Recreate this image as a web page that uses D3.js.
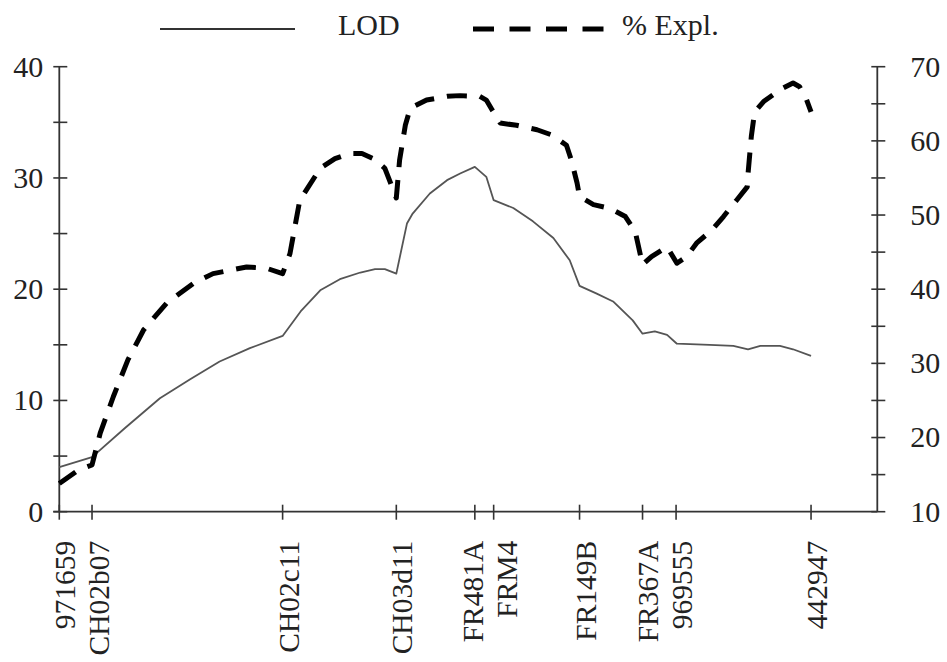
<!DOCTYPE html>
<html>
<head>
<meta charset="utf-8">
<script src="https://cdn.jsdelivr.net/npm/d3@7"></script>
<style>
  html, body { margin: 0; padding: 0; background: #fff; }
  svg { display: block; }
  text { font-family: "Liberation Serif", "Times New Roman", serif; fill: #222; }
</style>
</head>
<body>
<svg id="chart" width="947" height="662" font-family="Liberation Serif, Times New Roman, serif"></svg>
<script>
// Marker names and their map positions (cM-like units)
const markerNames = ["971659", "CH02b07", "CH02c11", "CH03d11", "FR481A", "FRM4", "FR149B", "FR367A", "969555", "442947"];
const markerPos   = [0, 4.0, 27.3, 41.2, 50.8, 53.1, 63.6, 71.3, 75.4, 91.9];

// LOD profile (position, LOD)
const lodPos = [0, 4.0, 8.0, 12.3, 16.0, 19.6, 23.3, 27.3, 29.5, 31.9, 34.3, 36.8, 38.6, 39.8, 41.2,
  42.5, 43.2, 45.3, 47.4, 49.0, 50.8, 52.2, 53.1, 55.5, 57.9, 60.4, 62.4, 63.6, 65.7, 67.7, 70.1,
  71.3, 72.8, 74.3, 75.5, 79.5, 82.4, 84.2, 85.7, 88.1, 89.7, 91.9];
const lodVal = [4.0, 4.9, 7.5, 10.2, 11.9, 13.5, 14.7, 15.8, 18.0, 19.9, 20.9, 21.5, 21.8, 21.8, 21.4,
  25.9, 26.8, 28.6, 29.8, 30.4, 31.0, 30.1, 28.0, 27.3, 26.1, 24.6, 22.6, 20.3, 19.6, 18.9, 17.2,
  16.0, 16.2, 15.9, 15.1, 15.0, 14.9, 14.6, 14.9, 14.9, 14.6, 14.0];

// % explained profile (position, %)
const explPos = [0, 2.3, 4.0, 5.0, 6.6, 8.4, 10.3, 13.1, 16.4, 18.8, 22.9, 25.4, 27.3, 28.2, 29.4, 31.9,
  33.7, 35.5, 37.0, 38.6, 39.8, 41.2, 41.6, 42.3, 42.9, 44.9, 47.4, 49.0, 51.4, 52.2, 52.9, 53.9,
  55.9, 58.4, 60.2, 62.0, 62.6, 63.3, 63.6, 65.3, 67.3, 69.2, 70.4, 71.3, 72.4, 74.3, 75.5, 76.7,
  77.9, 79.8, 81.2, 82.8, 84.1, 84.2, 84.6, 85.0, 86.1, 88.1, 89.7, 90.5, 91.3, 91.9];
const explVal = [13.8, 15.6, 16.3, 20.6, 25.5, 30.5, 34.5, 38.1, 40.8, 42.1, 43.0, 42.8, 42.1, 44.8, 52.0, 56.3,
  57.6, 58.3, 58.3, 57.5, 56.3, 52.3, 57.4, 62.1, 64.4, 65.5, 66.0, 66.1, 66.0, 65.5, 64.2, 62.4,
  62.1, 61.5, 60.8, 59.4, 57.4, 54.3, 52.5, 51.4, 50.9, 49.8, 47.8, 43.3, 44.4, 45.7, 43.5, 44.4,
  46.2, 48.0, 49.8, 52.0, 53.8, 55.6, 60.6, 63.9, 65.3, 66.9, 67.8, 67.3, 65.7, 63.9];

const leftTicks  = [0, 10, 20, 30, 40];
const rightTicks = [10, 20, 30, 40, 50, 60, 70];
const legendLabels = ["LOD", "% Expl."];

const svg = d3.select("#chart");
const x  = d3.scaleLinear().domain([0, 100]).range([59.3, 877.3]);
const yL = d3.scaleLinear().domain([0, 40]).range([511.7, 66.7]);
const yR = d3.scaleLinear().domain([10, 70]).range([511.7, 66.7]);

const axisColor = "#333";

// Left axis
const gL = svg.append("g").attr("transform", `translate(${x(0)},0)`);
gL.append("line").attr("y1", yL(0)).attr("y2", yL(40)).attr("stroke", axisColor).attr("stroke-width", 1.8);
gL.selectAll("line.tk").data(d3.range(0, 41, 5)).join("line").attr("class", "tk")
  .attr("x1", -6).attr("x2", 8).attr("y1", d => yL(d)).attr("y2", d => yL(d))
  .attr("stroke", axisColor).attr("stroke-width", 1.6);
gL.selectAll("text").data(leftTicks).join("text")
  .attr("x", -16).attr("y", d => yL(d)).attr("dy", "0.33em")
  .attr("text-anchor", "end").attr("font-size", 30).text(d => d);

// Right axis
const gR = svg.append("g").attr("transform", `translate(${x(100)},0)`);
gR.append("line").attr("y1", yR(10)).attr("y2", yR(70)).attr("stroke", axisColor).attr("stroke-width", 1.8);
gR.selectAll("line.tk").data(d3.range(10, 71, 5)).join("line").attr("class", "tk")
  .attr("x1", -6).attr("x2", 8).attr("y1", d => yR(d)).attr("y2", d => yR(d))
  .attr("stroke", axisColor).attr("stroke-width", 1.6);
gR.selectAll("text").data(rightTicks).join("text")
  .attr("x", 33).attr("y", d => yR(d)).attr("dy", "0.33em")
  .attr("text-anchor", "start").attr("font-size", 30).text(d => d);

// Bottom axis
const gB = svg.append("g").attr("transform", `translate(0,${yL(0)})`);
gB.append("line").attr("x1", x(0) - 6).attr("x2", x(100)).attr("stroke", axisColor).attr("stroke-width", 1.8);
gB.selectAll("line.tk").data(markerPos).join("line").attr("class", "tk")
  .attr("x1", d => x(d)).attr("x2", d => x(d)).attr("y1", -7).attr("y2", 8)
  .attr("stroke", axisColor).attr("stroke-width", 1.6);

// label baselines: tick + offset, then push apart close neighbours
const baseOff = 16, minGap = 34;
const lx = markerPos.map(p => x(p) + baseOff);
for (let i = 1; i < lx.length; i++) {
  const gap = lx[i] - lx[i - 1];
  if (gap < minGap) {
    const push = (minGap - gap) / 2;
    lx[i - 1] -= push; lx[i] += push;
  }
}
gB.selectAll("text").data(markerNames).join("text")
  .attr("transform", (d, i) => `translate(${lx[i]},29) rotate(-90)`)
  .attr("text-anchor", "end").attr("font-size", 29.5).text(d => d);

// Lines
const lodData = lodPos.map((p, i) => [p, lodVal[i]]);
const explData = explPos.map((p, i) => [p, explVal[i]]);

svg.append("path").datum(lodData)
  .attr("fill", "none").attr("stroke", "#555").attr("stroke-width", 1.8)
  .attr("stroke-linejoin", "round")
  .attr("d", d3.line().x(d => x(d[0])).y(d => yL(d[1])));

svg.append("path").datum(explData)
  .attr("fill", "none").attr("stroke", "#000").attr("stroke-width", 5)
  .attr("stroke-dasharray", "20,13").attr("stroke-linejoin", "round")
  .attr("d", d3.line().x(d => x(d[0])).y(d => yR(d[1])));

// Legend
const leg = svg.append("g");
leg.append("line").attr("x1", 160).attr("x2", 295).attr("y1", 29).attr("y2", 29)
  .attr("stroke", "#333").attr("stroke-width", 1.8);
leg.append("text").attr("x", 338).attr("y", 35).attr("font-size", 30).text(legendLabels[0]);
leg.append("line").attr("x1", 473).attr("x2", 606).attr("y1", 29).attr("y2", 29)
  .attr("stroke", "#000").attr("stroke-width", 5).attr("stroke-dasharray", "21,15.5");
leg.append("text").attr("x", 622).attr("y", 35).attr("font-size", 30).text(legendLabels[1]);
</script>
</body>
</html>
